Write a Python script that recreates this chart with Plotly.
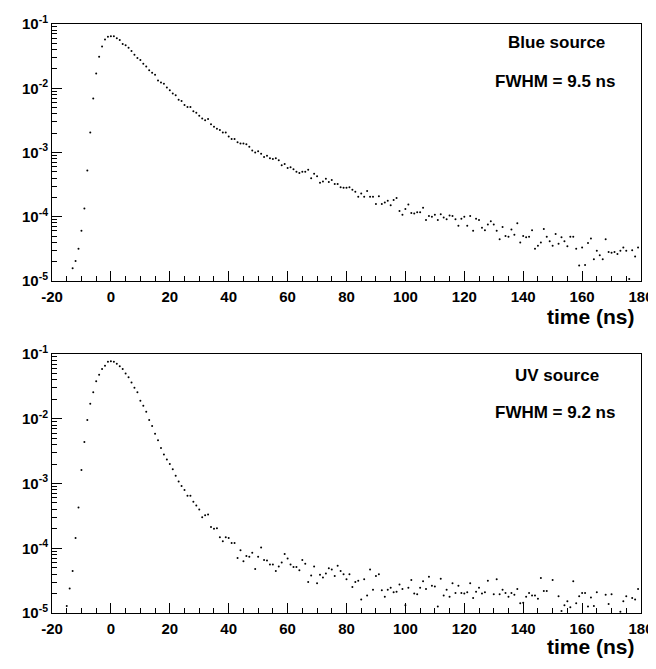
import plotly.graph_objects as go

# Time bins (ns), one point per ns
time_blue = list(range(-13, 180))
time_uv = list(range(-15, 180))

# log10 of the normalised counts
blue_log = [
    -4.80, -4.69, -4.50, -4.22, -3.87, -3.28, -2.69, -2.16, -1.77, -1.51,
    -1.35, -1.24, -1.20, -1.19, -1.19, -1.22, -1.25, -1.31, -1.33, -1.37,
    -1.42, -1.48, -1.53, -1.56, -1.62, -1.66, -1.72, -1.76, -1.79, -1.88,
    -1.91, -1.93, -1.99, -2.03, -2.08, -2.11, -2.18, -2.20, -2.26, -2.29,
    -2.29, -2.36, -2.38, -2.43, -2.47, -2.50, -2.48, -2.56, -2.60, -2.63,
    -2.65, -2.69, -2.69, -2.75, -2.79, -2.79, -2.84, -2.86, -2.86, -2.87,
    -2.91, -2.97, -3.00, -2.98, -3.02, -3.07, -3.05, -3.09, -3.10, -3.09,
    -3.12, -3.20, -3.18, -3.24, -3.23, -3.26, -3.30, -3.32, -3.30, -3.30,
    -3.27, -3.40, -3.33, -3.37, -3.47, -3.45, -3.41, -3.46, -3.43, -3.49,
    -3.49, -3.54, -3.55, -3.55, -3.54, -3.58, -3.61, -3.69, -3.64, -3.69,
    -3.60, -3.69, -3.69, -3.80, -3.68, -3.80, -3.78, -3.75, -3.82, -3.74,
    -3.71, -3.91, -3.97, -3.88, -3.81, -3.94, -3.95, -3.93, -3.93, -3.86,
    -4.05, -3.99, -4.00, -3.97, -4.05, -3.96, -4.01, -4.04, -3.98, -3.99,
    -4.04, -4.14, -4.03, -4.00, -4.14, -3.99, -4.22, -4.03, -4.05, -4.17,
    -4.21, -4.12, -4.07, -4.12, -4.22, -4.35, -4.16, -4.30, -4.31, -4.20,
    -4.28, -4.10, -4.40, -4.30, -4.32, -4.31, -4.21, -4.50, -4.45, -4.40,
    -4.19, -4.31, -4.38, -4.45, -4.27, -4.42, -4.32, -4.38, -4.46, -4.31,
    -4.31, -4.50, -4.76, -4.48, -4.75, -4.41, -4.34, -4.66, -4.53, -4.60,
    -4.66, -4.35, -4.55, -4.56, -4.55, -4.58, -4.53, -4.48, -4.53, -4.97,
    -4.52, -4.62, -4.48,
]

uv_log = [
    -4.89, -4.62, -4.35, -3.84, -3.37, -2.79, -2.36, -2.02, -1.77, -1.59,
    -1.42, -1.32, -1.23, -1.18, -1.12, -1.11, -1.12, -1.15, -1.19, -1.23,
    -1.30, -1.36, -1.44, -1.52, -1.59, -1.72, -1.80, -1.89, -2.02, -2.11,
    -2.23, -2.33, -2.45, -2.55, -2.63, -2.70, -2.78, -2.88, -2.97, -3.04,
    -3.10, -3.19, -3.19, -3.28, -3.34, -3.40, -3.52, -3.49, -3.48, -3.67,
    -3.70, -3.69, -3.83, -3.89, -3.83, -3.84, -3.92, -3.92, -4.15, -4.03,
    -4.20, -4.12, -4.13, -4.07, -4.32, -4.13, -3.99, -4.18, -4.19, -4.25,
    -4.25, -4.35, -4.28, -4.22, -4.09, -4.16, -4.25, -4.29, -4.29, -4.34,
    -4.18, -4.24, -4.52, -4.42, -4.28, -4.54, -4.41, -4.45, -4.39, -4.31,
    -4.33, -4.43, -4.27, -4.35, -4.40, -4.48, -4.40, -4.60, -4.52, -4.50,
    -4.79, -4.48, -4.73, -4.33, -4.64, -4.43, -4.40, -4.65, -4.75, -4.64,
    -4.61, -4.68, -4.67, -4.56, -4.63, -4.88, -4.61, -4.49, -4.70, -4.71,
    -4.61, -4.51, -4.63, -4.44, -4.58, -4.59, -4.90, -4.47, -4.73, -4.64,
    -4.75, -4.54, -4.69, -4.58, -4.69, -4.70, -4.68, -4.54, -4.77, -4.67,
    -4.61, -4.70, -4.68, -4.50, None, -4.71, -4.48, -4.71, -4.64, -4.69,
    -4.75, -4.69, -4.72, -4.63, -4.85, -4.84, -4.75, -4.69, -4.73, -4.73,
    -4.78, -4.46, -4.66, -4.66, None, -4.49, None, -4.74, -4.97, -4.88,
    -4.82, -4.91, -4.51, -4.85, -4.74, -4.69, -4.69, -4.90, -4.76, -4.89,
    -4.68, None, None, -4.72, -4.86, -4.71, None, None, -4.98, -4.82,
    -4.74, None, -4.77, -4.79, -4.63,
]

labels = ["Blue source", "UV source"]
fwhm_text = ["FWHM = 9.5 ns", "FWHM = 9.2 ns"]

# tick labels (ROOT style, plain hyphen for the minus sign)
x_ticks = [-20, 0, 20, 40, 60, 80, 100, 120, 140, 160, 180]
x_tick_text = ["-20", "0", "20", "40", "60", "80", "100", "120", "140", "160", "180"]
decades = [1e-5, 1e-4, 1e-3, 1e-2, 1e-1]
decade_text = ["10<sup>-5</sup>", "10<sup>-4</sup>", "10<sup>-3</sup>",
               "10<sup>-2</sup>", "10<sup>-1</sup>"]


def to_lin(vals):
    return [10 ** v if v is not None else None for v in vals]


fig = go.Figure()

fig.add_trace(go.Scatter(x=time_blue, y=to_lin(blue_log), mode="markers",
                         marker=dict(size=2, color="black"),
                         xaxis="x", yaxis="y"))
fig.add_trace(go.Scatter(x=time_uv, y=to_lin(uv_log), mode="markers",
                         marker=dict(size=2, color="black"),
                         xaxis="x2", yaxis="y2"))

tick_font = dict(family="Liberation Sans", size=15, color="black", weight="bold")
minor_y = [k * d for d in decades[:-1] for k in range(2, 10)]

xaxis_style = dict(range=[-20, 180], tickmode="array", tickvals=x_ticks,
                   ticktext=x_tick_text, ticks="inside",
                   ticklen=10, tickwidth=1, tickcolor="black",
                   showline=True, mirror=True, linecolor="black", linewidth=1,
                   showgrid=False, zeroline=False, tickfont=tick_font,
                   automargin=False, ticklabeloverflow="allow",
                   ticklabelstandoff=2,
                   minor=dict(tick0=-20, dtick=5, ticks="inside", ticklen=5,
                              tickcolor="black", showgrid=False))
yaxis_style = dict(type="log", range=[-5, -1], tickmode="array",
                   tickvals=decades, ticktext=decade_text, ticks="inside",
                   ticklen=10, tickwidth=1, tickcolor="black",
                   showline=True, mirror=True, linecolor="black", linewidth=1,
                   showgrid=False, zeroline=False, tickfont=tick_font,
                   automargin=False, ticklabelstandoff=0,
                   ticklabeloverflow="allow",
                   minor=dict(tickmode="array", tickvals=minor_y, ticks="inside",
                              ticklen=5, tickcolor="black", showgrid=False))

# the page body adds 8px around the div, so margins are shifted to compensate
fig.update_layout(
    width=656, height=669,
    margin=dict(l=44, r=23, t=16, b=64),
    plot_bgcolor="white", paper_bgcolor="white",
    showlegend=False,
    xaxis=dict(domain=[0, 1], anchor="y", **xaxis_style),
    yaxis=dict(domain=[0.5637, 1], anchor="x", **yaxis_style),
    xaxis2=dict(domain=[0, 1], anchor="y2", **xaxis_style),
    yaxis2=dict(domain=[0, 0.4397], anchor="x2", **yaxis_style),
)

text_font = dict(family="Liberation Sans", size=17, color="black", weight="bold")
title_font = dict(family="Liberation Sans", size=21, color="black", weight="bold")

# source labels and FWHM values
for lab, fw, y_lab, y_fw in zip(labels, fwhm_text, [0.968, 0.404], [0.902, 0.340]):
    fig.add_annotation(x=0.857, y=y_lab, xref="paper", yref="paper", text=lab,
                       showarrow=False, font=text_font,
                       xanchor="center", yanchor="middle")
    fig.add_annotation(x=0.854, y=y_fw, xref="paper", yref="paper", text=fw,
                       showarrow=False, font=text_font,
                       xanchor="center", yanchor="middle")

# x axis titles, right aligned like ROOT
for y_t in [0.503, -0.057]:
    fig.add_annotation(x=0.993, y=y_t, xref="paper", yref="paper",
                       text="time (ns)", showarrow=False, xanchor="right",
                       yanchor="middle", font=title_font)

fig.write_html("out.html")
